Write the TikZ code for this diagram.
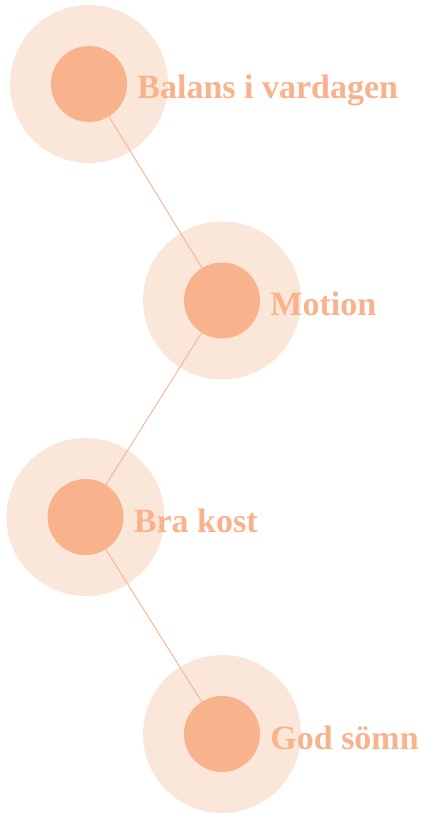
\documentclass[tikz,border=0pt]{standalone}
\usepackage{fontspec}
\setmainfont{Liberation Serif}
\usepackage{xcolor}
\usepackage{tikz}
\definecolor{peach}{HTML}{F9B38C}
\definecolor{paleblush}{HTML}{FBE7D9}
\tikzset{
  halo/.style={circle,fill=paleblush,minimum size=158pt,inner sep=0pt},
  dot/.style={circle,fill=peach,minimum size=76pt,inner sep=0pt},
  steplabel/.style={anchor=base west,text=peach,inner sep=0pt,font=\fontsize{34}{40}\selectfont\bfseries},
  link/.style={draw=peach,line width=0.9pt}
}

\begin{document}
\begin{tikzpicture}[x=1pt,y=-1pt]
  \useasboundingbox (0,0) rectangle (428,813);
  % halos
  \node[halo] (h1) at (89,84) {};
  \node[halo] (h2) at (222,300.5) {};
  \node[halo] (h3) at (85.5,517) {};
  \node[halo] (h4) at (222,734) {};
  % dots
  \node[dot] (d1) at (h1.center) {};
  \node[dot] (d2) at (h2.center) {};
  \node[dot] (d3) at (h3.center) {};
  \node[dot] (d4) at (h4.center) {};
  % links
  \draw[link] (d1) -- (d2);
  \draw[link] (d2) -- (d3);
  \draw[link] (d3) -- (d4);
  % labels
  \node[steplabel] (l1) at ([shift={(10,15)}]d1.east) {Balans i vardagen};
  \node[steplabel] (l2) at ([shift={(10,15)}]d2.east) {Motion};
  \node[steplabel] (l3) at ([shift={(10,15)}]d3.east) {Bra kost};
  \node[steplabel] (l4) at ([shift={(10,15)}]d4.east) {God sömn};
\end{tikzpicture}
\end{document}
